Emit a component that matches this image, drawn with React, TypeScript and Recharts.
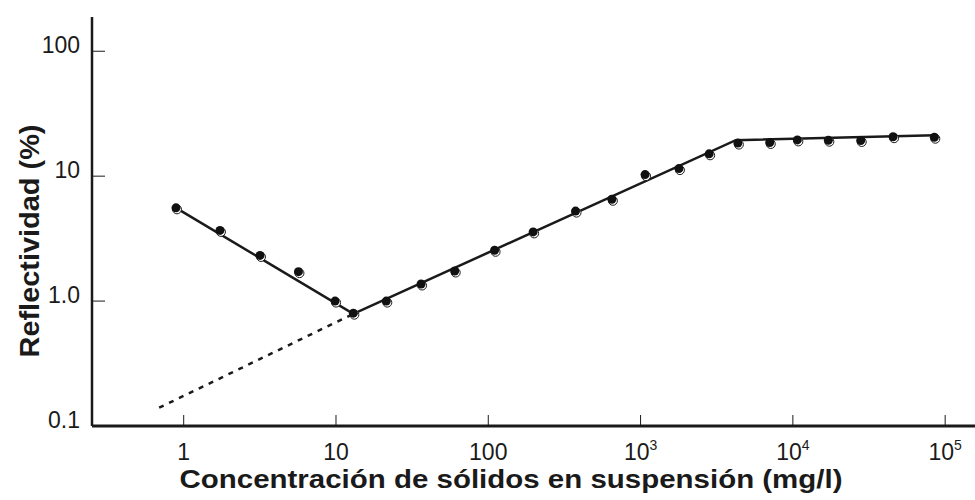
import React from 'react'
import { ScatterChart, Scatter, XAxis, YAxis } from 'recharts'

// measured points (mg/l, %)
const concentration = [0.89, 1.73, 3.17, 5.67, 9.86, 13, 21.4, 36.2, 60.2, 110, 197, 374, 648, 1070, 1786, 2820, 4355, 7050, 10700, 17100, 27900, 45500, 84900]
const reflectivity = [5.58, 3.68, 2.32, 1.72, 1.0, 0.8, 1.0, 1.37, 1.74, 2.55, 3.58, 5.25, 6.53, 10.3, 11.5, 15.1, 18.4, 18.6, 19.5, 19.4, 19.3, 20.7, 20.5]

// fitted trend, three straight pieces
const fitX = [0.89, 13, 4217, 85700]
const fitY = [5.58, 0.79, 19.4, 21.3]

// dashed extrapolation of the rising piece
const extX = [0.69, 13]
const extY = [0.14, 0.79]

const xTicks = [1, 10, 100, 1000, 10000, 100000]
const xTickLabels = ['1', '10', '100', '10^3', '10^4', '10^5']
const yTicks = [0.1, 1, 10, 100]
const yTickLabels = ['0.1', '1.0', '10', '100']

const toPoints = (xs: number[], ys: number[]) => xs.map((x, i) => ({ x, y: ys[i] }))

const points = toPoints(concentration, reflectivity)
const fitLine = toPoints(fitX, fitY)
const extLine = toPoints(extX, extY)

const FONT = '"Liberation Sans", Arial, sans-serif'
const INK = '#1a1a1a'

const XTick = (props: any) => {
  const { x, y, payload } = props
  const label = xTickLabels[xTicks.indexOf(payload.value)] || String(payload.value)
  const [base, exp] = label.split('^')
  return (
    <g>
      <line x1={x} y1={y} x2={x} y2={y - 11} stroke={INK} strokeWidth={1} />
      <text x={x} y={y + 34} textAnchor="middle" fontFamily={FONT} fontSize={23} fill={INK}>
        {base}
        {exp && <tspan dy={-10} fontSize={14}>{exp}</tspan>}
      </text>
    </g>
  )
}

const YTick = (props: any) => {
  const { x, y, payload } = props
  const label = yTickLabels[yTicks.indexOf(payload.value)] || String(payload.value)
  return (
    <g>
      <line x1={x} y1={y} x2={x + 13} y2={y} stroke={INK} strokeWidth={1} />
      <text x={x - 12} y={y + 2} textAnchor="end" fontFamily={FONT} fontSize={23} fill={INK}>
        {label}
      </text>
    </g>
  )
}

const Marker = (props: any) => {
  const { cx, cy } = props
  return (
    <g>
      <circle cx={cx + 1} cy={cy + 1.5} r={4.5} fill="#fff" stroke={INK} strokeWidth={1} />
      <circle cx={cx} cy={cy} r={4.5} fill="#111" />
    </g>
  )
}

const NoDot = () => <g />

const XTitle = (props: any) => {
  const { viewBox } = props
  return (
    <text
      x={511}
      y={viewBox.y + 62}
      textAnchor="middle"
      fontFamily={FONT}
      fontSize={26}
      fontWeight="bold"
      fill={INK}
      textLength={663}
      lengthAdjust="spacingAndGlyphs"
    >
      Concentración de sólidos en suspensión (mg/l)
    </text>
  )
}

const YTitle = () => {
  const cx = 39
  const cy = 241
  return (
    <text
      x={cx}
      y={cy}
      transform={`rotate(-90, ${cx}, ${cy})`}
      textAnchor="middle"
      fontFamily={FONT}
      fontSize={28}
      fontWeight="bold"
      fill={INK}
      textLength={233}
      lengthAdjust="spacingAndGlyphs"
    >
      Reflectividad (%)
    </text>
  )
}

export default function App() {
  return (
    <div style={{ position: 'absolute', left: 0, top: 0, background: '#fff' }}>
      <ScatterChart width={975} height={500} margin={{ top: 17, right: 0, bottom: 0, left: 0 }}>
        <XAxis
          type="number"
          dataKey="x"
          scale="log"
          domain={[0.25, 157000]}
          allowDataOverflow
          ticks={xTicks}
          interval={0}
          height={74}
          tickSize={0}
          tickMargin={0}
          tickLine={false}
          axisLine={{ stroke: INK, strokeWidth: 3 }}
          tick={XTick}
          label={<XTitle />}
        />
        <YAxis
          type="number"
          dataKey="y"
          scale="log"
          domain={[0.1, 188]}
          allowDataOverflow
          ticks={yTicks}
          interval={0}
          width={92}
          tickSize={0}
          tickMargin={0}
          tickLine={false}
          axisLine={{ stroke: INK, strokeWidth: 2.5 }}
          tick={YTick}
          label={<YTitle />}
        />
        <Scatter
          data={extLine}
          fill={INK}
          line={{ stroke: INK, strokeWidth: 2.5, strokeDasharray: '5 6' }}
          shape={NoDot}
          isAnimationActive={false}
        />
        <Scatter
          data={fitLine}
          fill={INK}
          line={{ stroke: INK, strokeWidth: 2.5 }}
          shape={NoDot}
          isAnimationActive={false}
        />
        <Scatter data={points} fill="#111" shape={Marker} isAnimationActive={false} />
      </ScatterChart>
    </div>
  )
}
